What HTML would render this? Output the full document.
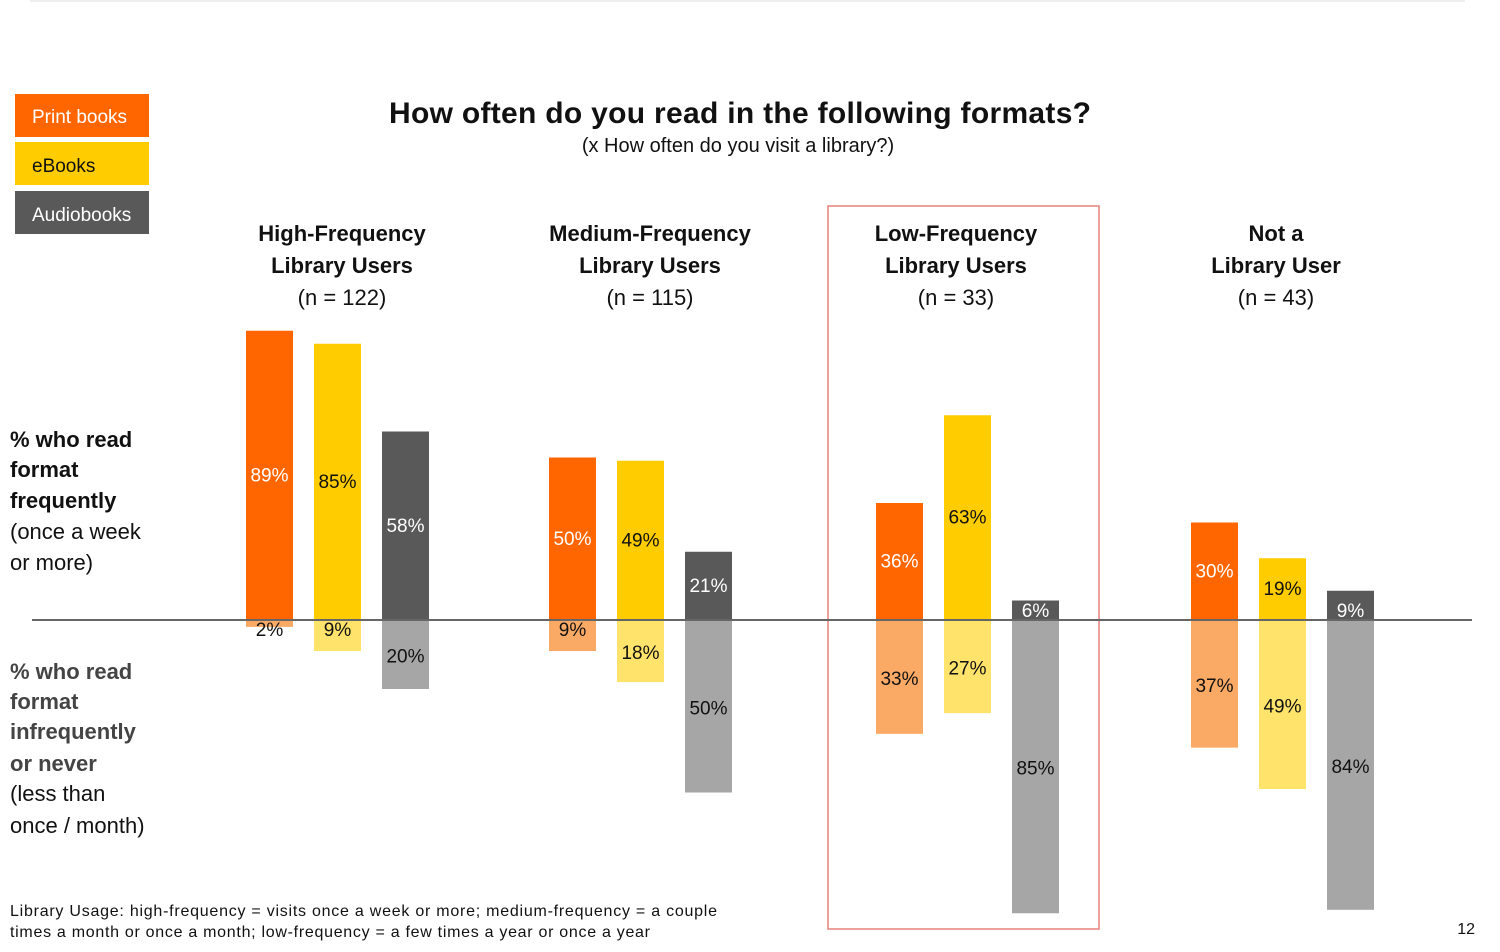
<!DOCTYPE html>
<html><head><meta charset="utf-8"><style>
body{margin:0;background:#fff;width:1500px;height:952px;overflow:hidden;font-family:"Liberation Sans",sans-serif}
svg{display:block}
</style></head><body>
<svg id="c" width="1500" height="952">
<line x1="30" y1="1" x2="1465" y2="1" stroke="#ddd"/>
<rect x="15" y="94" width="134" height="43" fill="#FF6600"/>
<text x="32" y="123" font-size="19" fill="#fff">Print books</text>
<rect x="15" y="142" width="134" height="43" fill="#FFCC00"/>
<text x="32" y="172" font-size="19" fill="#111">eBooks</text>
<rect x="15" y="191" width="134" height="43" fill="#595959"/>
<text x="32" y="221" font-size="19" fill="#fff">Audiobooks</text>
<text x="740" y="123" font-size="30" font-weight="bold" text-anchor="middle" fill="#111" textLength="702">How often do you read in the following formats?</text>
<text x="738" y="152" font-size="20" text-anchor="middle" fill="#111">(x How often do you visit a library?)</text>
<rect x="828" y="206" width="271" height="723" fill="none" stroke="#E8817A" stroke-width="1.5"/>
<g font-size="22" fill="#111">
<text x="10" y="447" font-weight="bold">% who read</text>
<text x="10" y="477" font-weight="bold">format</text>
<text x="10" y="508" font-weight="bold">frequently</text>
<text x="10" y="539">(once a week</text>
<text x="10" y="570">or more)</text>
<text x="10" y="679" font-weight="bold" fill="#444">% who read</text>
<text x="10" y="709" font-weight="bold" fill="#444">format</text>
<text x="10" y="739" font-weight="bold" fill="#444">infrequently</text>
<text x="10" y="771" font-weight="bold" fill="#444">or never</text>
<text x="10" y="801">(less than</text>
<text x="10" y="833">once / month)</text>
</g>
<g font-size="16" fill="#111">
<text x="10" y="916" textLength="707">Library Usage:  high-frequency  = visits once a week or more; medium-frequency = a couple</text>
<text x="10" y="937" textLength="640">times a month or once a month; low-frequency = a few times a year or once a year</text>
<text x="1475" y="934" text-anchor="end" font-size="16">12</text>
</g>
<g id="bars"></g>
<line x1="32" y1="620" x2="1472" y2="620" stroke="#666" stroke-width="2"/>
</svg>
<script>
const groups=["High-Frequency|Library Users|(n = 122)","Medium-Frequency|Library Users|(n = 115)","Low-Frequency|Library Users|(n = 33)","Not a|Library User|(n = 43)"];
const printFreq=[89,50,36,30];
const ebookFreq=[85,49,63,19];
const audioFreq=[58,21,6,9];
const printInfreq=[2,9,33,37];
const ebookInfreq=[9,18,27,49];
const audioInfreq=[20,50,85,84];
const NS="http://www.w3.org/2000/svg";
const g=document.getElementById('bars');
const base=620, upS=3.25, dnS=3.45;
const groupX=[246,549,876,1191], labelX=[342,650,956,1276], barOff=[0,68,136], bw=47;
const yUp=v=>base-v*upS, yDn=v=>base+v*dnS;
const dark=["#FF6600","#FFCC00","#595959"], light=["#FBAA66","#FFE36A","#A6A6A6"];
const upTxt=["#fff","#111","#fff"];
const names=["print","ebook","audio"];
function el(t,a){const e=document.createElementNS(NS,t);for(const k in a)e.setAttribute(k,a[k]);g.appendChild(e);return e;}
const ups=[printFreq,ebookFreq,audioFreq], dns=[printInfreq,ebookInfreq,audioInfreq];
groups.forEach((lab,i)=>{
  const cx=labelX[i];
  lab.split('|').forEach((l,j)=>{
    const t=el('text',{x:cx,y:241+j*32,'font-size':22,'text-anchor':'middle','font-weight':j<2?'bold':'normal',fill:'#111'});
    
    
    t.textContent=l;
  });
  for(let s=0;s<3;s++){
    const x=groupX[i]+barOff[s], u=ups[s][i], d=dns[s][i];
    const r1=el('rect',{x:x,y:yUp(u),width:bw,height:base-yUp(u),fill:dark[s]});
    
    
    const r2=el('rect',{x:x,y:base,width:bw,height:yDn(d)-base,fill:light[s]});
    
    
    const ty=u<10?base-3:(yUp(u)+base)/2+6;
    const t1=el('text',{x:x+bw/2,y:ty,'font-size':19,'text-anchor':'middle',fill:upTxt[s]});
    
    
    t1.textContent=u+'%';
    const ty2=d<10?base+16:(yDn(d)+base)/2+8;
    const t2=el('text',{x:x+bw/2,y:ty2,'font-size':19,'text-anchor':'middle',fill:'#111'});
    
    
    t2.textContent=d+'%';
  }
});
</script>
</body></html>
